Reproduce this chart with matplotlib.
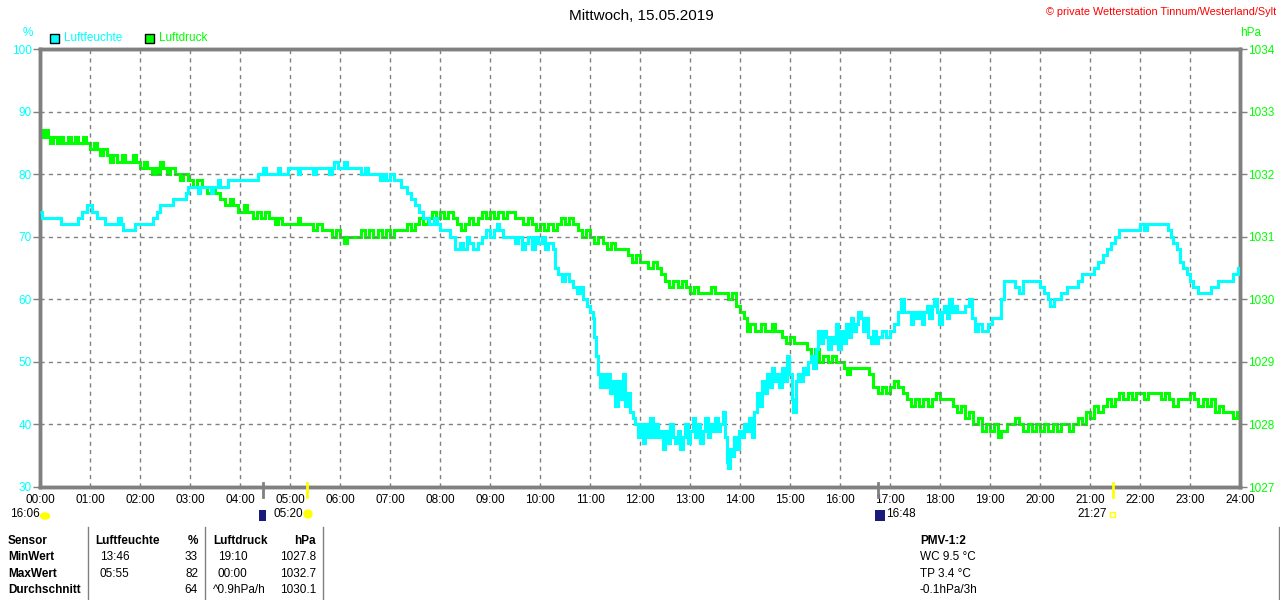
import matplotlib
matplotlib.use("Agg")
from matplotlib import pyplot as plt
from matplotlib.patches import Rectangle, Ellipse
from matplotlib.transforms import blended_transform_factory

plt.rcParams['font.family'] = ['Liberation Sans', 'DejaVu Sans']

# Luftfeuchte (%)
hum_time = ["00:00", "00:02", "00:25", "00:45", "00:50", "00:56", "01:02", "01:08", "01:18", "01:33",
            "01:37", "01:40", "01:54", "02:15", "02:20", "02:24", "02:39", "02:55", "02:58", "03:10",
            "03:12", "03:25", "03:28", "03:33", "03:36", "03:45", "04:21", "04:28", "04:31", "04:45",
            "04:48", "04:57", "05:10", "05:12", "05:27", "05:31", "05:47", "05:50", "05:53", "05:58",
            "06:05", "06:08", "06:25", "06:30", "06:33", "06:48", "06:52", "06:55", "07:00", "07:05",
            "07:13", "07:20", "07:25", "07:30", "07:35", "07:40", "07:47", "07:53", "07:56", "08:00",
            "08:12", "08:18", "08:24", "08:28", "08:32", "08:35", "08:40", "08:45", "08:50", "08:55",
            "09:00", "09:05", "09:08", "09:11", "09:15", "09:30", "09:34", "09:38", "09:42", "09:46",
            "09:50", "09:54", "09:58", "10:02", "10:06", "10:10", "10:15", "10:18", "10:22", "10:26",
            "10:30", "10:35", "10:40", "10:44", "10:48", "10:52", "10:56", "11:00", "11:03", "11:05",
            "11:07", "11:09", "11:12", "11:15", "11:18", "11:21", "11:24", "11:27", "11:30", "11:33",
            "11:36", "11:39", "11:42", "11:45", "11:48", "11:51", "11:54", "11:57", "12:00", "12:03",
            "12:06", "12:09", "12:12", "12:15", "12:18", "12:21", "12:24", "12:27", "12:30", "12:33",
            "12:36", "12:39", "12:42", "12:45", "12:48", "12:51", "12:54", "12:57", "13:00", "13:03",
            "13:06", "13:09", "13:12", "13:15", "13:18", "13:21", "13:24", "13:27", "13:30", "13:33",
            "13:36", "13:39", "13:42", "13:44", "13:46", "13:48", "13:50", "13:53", "13:56", "13:59",
            "14:02", "14:05", "14:08", "14:11", "14:14", "14:17", "14:20", "14:23", "14:26", "14:29",
            "14:32", "14:35", "14:38", "14:41", "14:44", "14:47", "14:50", "14:53", "14:56", "14:59",
            "15:02", "15:04", "15:07", "15:10", "15:13", "15:16", "15:19", "15:22", "15:25", "15:28",
            "15:31", "15:34", "15:37", "15:40", "15:43", "15:46", "15:49", "15:52", "15:55", "15:58",
            "16:01", "16:04", "16:07", "16:10", "16:13", "16:16", "16:19", "16:22", "16:25", "16:28",
            "16:31", "16:34", "16:37", "16:40", "16:43", "16:46", "16:50", "16:55", "17:00", "17:05",
            "17:10", "17:13", "17:17", "17:22", "17:25", "17:28", "17:31", "17:35", "17:38", "17:41",
            "17:44", "17:47", "17:50", "17:53", "17:56", "17:59", "18:02", "18:05", "18:08", "18:11",
            "18:14", "18:17", "18:20", "18:25", "18:30", "18:35", "18:38", "18:42", "18:46", "18:50",
            "18:58", "19:02", "19:08", "19:13", "19:17", "19:30", "19:35", "19:40", "20:00", "20:05",
            "20:09", "20:12", "20:17", "20:25", "20:32", "20:45", "20:50", "21:05", "21:10", "21:15",
            "21:20", "21:25", "21:30", "21:35", "21:43", "22:00", "22:05", "22:08", "22:33", "22:37",
            "22:40", "22:44", "22:48", "22:52", "22:56", "23:00", "23:03", "23:10", "23:25", "23:33",
            "23:52", "23:57", "24:00"]
hum_val = [74, 73, 72, 73, 74, 75, 74, 73, 72, 73,
           72, 71, 72, 73, 74, 75, 76, 77, 78, 77,
           78, 77, 78, 79, 78, 79, 80, 81, 80, 81,
           80, 81, 80, 81, 80, 81, 80, 81, 82, 81,
           82, 81, 80, 81, 80, 79, 80, 79, 80, 79,
           78, 77, 76, 75, 74, 73, 72, 73, 72, 71,
           70, 68, 69, 68, 70, 69, 68, 69, 70, 71,
           70, 71, 72, 71, 70, 69, 70, 68, 69, 70,
           68, 70, 69, 70, 68, 69, 68, 65, 64, 63,
           64, 63, 62, 61, 62, 60, 59, 58, 57, 54,
           51, 48, 46, 48, 46, 48, 45, 47, 43, 47,
           44, 48, 43, 45, 42, 41, 40, 38, 40, 37,
           40, 38, 41, 38, 40, 38, 39, 36, 39, 37,
           40, 38, 37, 39, 36, 38, 40, 37, 39, 41,
           38, 40, 37, 39, 41, 38, 40, 39, 41, 39,
           40, 42, 38, 34, 33, 36, 35, 38, 36, 39,
           38, 40, 39, 41, 38, 42, 45, 43, 47, 45,
           48, 46, 49, 47, 48, 46, 49, 47, 51, 48,
           44, 42, 47, 48, 47, 49, 48, 50, 51, 49,
           52, 55, 53, 55, 54, 52, 54, 53, 56, 52,
           55, 53, 56, 54, 57, 55, 56, 58, 57, 55,
           57, 54, 53, 55, 53, 54, 55, 54, 55, 56,
           58, 60, 58, 58, 56, 58, 57, 58, 56, 58,
           59, 57, 59, 60, 58, 56, 58, 59, 57, 60,
           58, 59, 58, 58, 59, 60, 57, 55, 56, 55,
           56, 57, 57, 60, 63, 62, 61, 63, 62, 61,
           60, 59, 60, 61, 62, 63, 64, 65, 66, 67,
           68, 69, 70, 71, 71, 72, 71, 72, 71, 70,
           69, 68, 66, 65, 64, 63, 62, 61, 62, 63,
           64, 65, 65]

# Luftdruck (hPa)
pres_time = ["00:00", "00:03", "00:06", "00:09", "00:12", "00:15", "00:20", "00:24", "00:28", "00:33",
             "00:37", "00:42", "00:46", "00:52", "00:55", "01:00", "01:05", "01:08", "01:12", "01:16",
             "01:20", "01:24", "01:28", "01:32", "01:38", "01:42", "01:48", "01:52", "01:55", "02:00",
             "02:05", "02:08", "02:14", "02:18", "02:22", "02:24", "02:27", "02:32", "02:36", "02:42",
             "02:48", "02:52", "02:58", "03:04", "03:08", "03:14", "03:20", "03:25", "03:30", "03:36",
             "03:42", "03:48", "03:52", "03:58", "04:05", "04:08", "04:15", "04:20", "04:25", "04:30",
             "04:35", "04:42", "04:46", "04:50", "05:00", "05:10", "05:12", "05:22", "05:28", "05:32",
             "05:38", "05:45", "05:50", "05:55", "06:00", "06:05", "06:08", "06:15", "06:25", "06:30",
             "06:35", "06:40", "06:45", "06:50", "06:55", "07:00", "07:05", "07:15", "07:20", "07:25",
             "07:30", "07:35", "07:40", "07:45", "07:50", "07:55", "08:00", "08:05", "08:10", "08:15",
             "08:20", "08:25", "08:30", "08:35", "08:40", "08:45", "08:50", "08:55", "09:00", "09:05",
             "09:10", "09:15", "09:20", "09:30", "09:35", "09:40", "09:45", "09:50", "09:55", "10:00",
             "10:05", "10:10", "10:15", "10:20", "10:25", "10:30", "10:35", "10:40", "10:45", "10:50",
             "10:55", "11:00", "11:05", "11:10", "11:15", "11:20", "11:25", "11:30", "11:40", "11:45",
             "11:50", "11:55", "12:00", "12:10", "12:15", "12:20", "12:25", "12:30", "12:35", "12:40",
             "12:45", "12:50", "12:55", "13:00", "13:05", "13:10", "13:20", "13:25", "13:30", "13:40",
             "13:45", "13:50", "13:55", "14:00", "14:05", "14:08", "14:12", "14:18", "14:25", "14:30",
             "14:38", "14:42", "14:50", "14:55", "15:00", "15:05", "15:20", "15:25", "15:30", "15:35",
             "15:40", "15:45", "15:50", "15:55", "16:05", "16:08", "16:12", "16:35", "16:40", "16:45",
             "16:50", "16:55", "17:00", "17:05", "17:10", "17:15", "17:20", "17:25", "17:30", "17:35",
             "17:40", "17:45", "17:50", "17:55", "18:00", "18:15", "18:20", "18:25", "18:30", "18:35",
             "18:40", "18:45", "18:50", "18:55", "19:00", "19:05", "19:10", "19:13", "19:20", "19:30",
             "19:35", "19:40", "19:45", "19:50", "19:55", "20:00", "20:05", "20:10", "20:15", "20:20",
             "20:25", "20:35", "20:40", "20:45", "20:50", "20:55", "21:00", "21:05", "21:10", "21:15",
             "21:20", "21:25", "21:30", "21:35", "21:40", "21:45", "21:50", "21:55", "22:05", "22:10",
             "22:25", "22:30", "22:35", "22:40", "22:45", "23:00", "23:05", "23:10", "23:15", "23:20",
             "23:25", "23:30", "23:35", "23:40", "23:52", "23:56", "24:00"]
pres_val = [1032.7, 1032.6, 1032.7, 1032.6, 1032.5, 1032.6, 1032.5, 1032.6, 1032.5, 1032.6,
            1032.5, 1032.6, 1032.5, 1032.6, 1032.5, 1032.4, 1032.5, 1032.4, 1032.3, 1032.4,
            1032.3, 1032.2, 1032.3, 1032.2, 1032.3, 1032.2, 1032.2, 1032.3, 1032.2, 1032.1,
            1032.2, 1032.1, 1032.0, 1032.1, 1032.0, 1032.2, 1032.1, 1032.0, 1032.1, 1032.0,
            1031.9, 1032.0, 1031.9, 1031.8, 1031.9, 1031.8, 1031.7, 1031.8, 1031.7, 1031.6,
            1031.5, 1031.6, 1031.5, 1031.4, 1031.5, 1031.4, 1031.3, 1031.4, 1031.3, 1031.4,
            1031.3, 1031.2, 1031.3, 1031.2, 1031.2, 1031.3, 1031.2, 1031.2, 1031.1, 1031.2,
            1031.1, 1031.1, 1031.0, 1031.1, 1031.0, 1030.9, 1031.0, 1031.0, 1031.1, 1031.0,
            1031.1, 1031.0, 1031.1, 1031.0, 1031.1, 1031.0, 1031.1, 1031.1, 1031.2, 1031.1,
            1031.2, 1031.3, 1031.2, 1031.3, 1031.4, 1031.3, 1031.4, 1031.3, 1031.4, 1031.3,
            1031.2, 1031.1, 1031.2, 1031.3, 1031.2, 1031.3, 1031.4, 1031.3, 1031.4, 1031.3,
            1031.4, 1031.3, 1031.4, 1031.3, 1031.3, 1031.2, 1031.3, 1031.2, 1031.1, 1031.2,
            1031.1, 1031.2, 1031.1, 1031.2, 1031.3, 1031.2, 1031.3, 1031.2, 1031.1, 1031.0,
            1031.1, 1031.0, 1030.9, 1031.0, 1030.9, 1030.8, 1030.9, 1030.8, 1030.8, 1030.7,
            1030.6, 1030.7, 1030.6, 1030.5, 1030.6, 1030.5, 1030.4, 1030.3, 1030.2, 1030.3,
            1030.2, 1030.3, 1030.2, 1030.1, 1030.2, 1030.1, 1030.1, 1030.2, 1030.1, 1030.1,
            1030.0, 1030.1, 1029.9, 1029.8, 1029.7, 1029.5, 1029.6, 1029.5, 1029.6, 1029.5,
            1029.6, 1029.5, 1029.4, 1029.3, 1029.4, 1029.3, 1029.2, 1029.1, 1029.2, 1029.0,
            1029.1, 1029.0, 1029.1, 1029.0, 1028.9, 1028.8, 1028.9, 1028.8, 1028.6, 1028.5,
            1028.6, 1028.5, 1028.6, 1028.7, 1028.6, 1028.5, 1028.4, 1028.3, 1028.4, 1028.3,
            1028.4, 1028.3, 1028.4, 1028.5, 1028.4, 1028.3, 1028.2, 1028.3, 1028.1, 1028.2,
            1028.0, 1028.1, 1027.9, 1028.0, 1027.9, 1028.0, 1027.8, 1027.9, 1028.0, 1028.1,
            1028.0, 1027.9, 1028.0, 1027.9, 1028.0, 1027.9, 1028.0, 1027.9, 1028.0, 1027.9,
            1028.0, 1027.9, 1028.0, 1028.1, 1028.0, 1028.2, 1028.1, 1028.3, 1028.2, 1028.3,
            1028.4, 1028.3, 1028.4, 1028.5, 1028.4, 1028.5, 1028.4, 1028.5, 1028.4, 1028.5,
            1028.4, 1028.5, 1028.4, 1028.3, 1028.4, 1028.5, 1028.4, 1028.3, 1028.4, 1028.3,
            1028.4, 1028.2, 1028.3, 1028.2, 1028.1, 1028.2, 1028.1]

hour_labels = ["%02d:00" % h for h in range(25)]

# sun / moon events below the time axis
event_times = ["04:28", "05:20", "16:46", "21:27"]
event_colors = ["#808080", "#ffff00", "#808080", "#ffff00"]

table_head = ["Sensor", "Luftfeuchte", "%", "Luftdruck", "hPa"]
table_rows = [["MinWert", "13:46", "33", "19:10", "1027.8"],
              ["MaxWert", "05:55", "82", "00:00", "1032.7"],
              ["Durchschnitt", "", "64", "^0.9hPa/h", "1030.1"]]
pmv_lines = ["PMV-1:2", "WC 9.5 °C", "TP 3.4 °C", "-0.1hPa/3h"]

CYAN = "#00ffff"
GREEN = "#00ff00"
GRAY = "#808080"


def to_hours(t):
    h, m = t.split(":")
    return int(h) + int(m) / 60.0


hum_x = [to_hours(t) for t in hum_time]
pres_x = [to_hours(t) for t in pres_time]

W, H = 1280, 600
fig = plt.figure(figsize=(W / 100, H / 100), dpi=100)
fig.patch.set_facecolor("white")


def px(x, y):
    return x / W, 1 - y / H


ax = fig.add_axes([40 / W, 1 - 487 / H, 1200 / W, 438 / H])
ax2 = ax.twinx()

ax.plot(hum_x, hum_val, color=CYAN, lw=2.2, drawstyle="steps-post", zorder=3,
        solid_joinstyle="miter", solid_capstyle="butt")
ax2.plot(pres_x, pres_val, color=GREEN, lw=2.2, drawstyle="steps-post", zorder=3,
         solid_joinstyle="miter", solid_capstyle="butt")

ax.set_xlim(0, 24)
ax.set_ylim(30, 100)
ax2.set_ylim(1027, 1034)
ax.set_xticks(range(25))
ax.set_xticklabels(hour_labels)
ax.set_yticks(range(30, 101, 10))
ax2.set_yticks(range(1027, 1035))

ax.grid(True, color=GRAY, ls=(0, (3, 3)), lw=1)
for a in (ax, ax2):
    for s in a.spines.values():
        s.set_color(GRAY)
        s.set_linewidth(2.5)
ax.tick_params(axis="x", length=0, labelsize=8.5, pad=5, colors="black")
ax.tick_params(axis="y", length=5, width=1, color=GRAY, labelcolor=CYAN, labelsize=8.5, pad=1)
ax2.tick_params(axis="y", length=5, width=1, color=GRAY, labelcolor=GREEN, labelsize=8.5, pad=1)
ax.set_zorder(ax2.get_zorder() + 1)
ax.patch.set_visible(False)

# event ticks below the axis
trans = blended_transform_factory(ax.transData, ax.transAxes)
for t, c in zip(event_times, event_colors):
    xh = to_hours(t)
    ax.plot([xh, xh], [0.01, -0.022], color=c, lw=2, transform=trans, clip_on=False, zorder=5)

# titles
fig.text(*px(641, 16), "Mittwoch, 15.05.2019", ha="center", va="center", fontsize=11)
fig.text(*px(1276, 12), "© private Wetterstation Tinnum/Westerland/Sylt", ha="right", va="center",
         fontsize=7.8, color="red")
fig.text(*px(28, 33), "%", ha="center", va="center", fontsize=8.5, color=CYAN)
fig.text(*px(1251, 33), "hPa", ha="center", va="center", fontsize=8.5, color=GREEN)

# legend
for lx, label, c in [(50, "Luftfeuchte", CYAN), (145, "Luftdruck", GREEN)]:
    fig.patches.append(Rectangle(px(lx, 43), 9 / W, 9 / H, transform=fig.transFigure,
                                 facecolor=c, edgecolor="black", lw=1))
    fig.text(*px(lx + 14, 38), label, ha="left", va="center", fontsize=8.5, color=c)

# event labels and icons
fig.text(*px(10, 514), "16:06", ha="left", va="center", fontsize=8.5)
fig.patches.append(Ellipse(px(45, 516), 9 / W, 6 / H, transform=fig.transFigure, color="#ffff00"))
fig.patches.append(Rectangle(px(259, 521), 7 / W, 11 / H, transform=fig.transFigure,
                             facecolor="#1a1a7a", edgecolor="none"))
fig.text(*px(274, 514), "05:20", ha="left", va="center", fontsize=8.5)
fig.patches.append(Ellipse(px(308, 514), 8 / W, 8 / H, transform=fig.transFigure, color="#ffff00"))
fig.patches.append(Rectangle(px(875, 521), 10 / W, 11 / H, transform=fig.transFigure,
                             facecolor="#1a1a7a", edgecolor="none"))
fig.text(*px(886, 514), "16:48", ha="left", va="center", fontsize=8.5)
fig.text(*px(1107, 514), "21:27", ha="right", va="center", fontsize=8.5)
fig.patches.append(Rectangle(px(1110, 517), 5 / W, 5 / H, transform=fig.transFigure,
                             facecolor="none", edgecolor="#ffff00", lw=1))

# table
head_x = [8, 95, 198, 213, 316]
data_x = [8, 100, 198, 218, 316]
col_ha = ["left", "left", "right", "left", "right"]
row_y = [541, 557, 574, 590]
for c, cell in enumerate(table_head):
    fig.text(*px(head_x[c], row_y[0]), cell, ha=col_ha[c], va="center", fontsize=8.5,
             fontweight="bold")
for r, row in enumerate(table_rows):
    for c, cell in enumerate(row):
        xx = 213 if cell.startswith("^") else data_x[c]
        fig.text(*px(xx, row_y[r + 1]), cell, ha=col_ha[c], va="center", fontsize=8.5,
                 fontweight="bold" if c == 0 else "normal")
for vx in [88, 205, 323, 1279]:
    fig.add_artist(plt.Line2D([vx / W, vx / W], [0, 1 - 527 / H], color=GRAY, lw=1,
                              transform=fig.transFigure))
for i, line in enumerate(pmv_lines):
    fig.text(*px(920, row_y[i]), line, ha="left", va="center", fontsize=8.5,
             fontweight="bold" if i == 0 else "normal")

fig.savefig("out.png", dpi=100)
